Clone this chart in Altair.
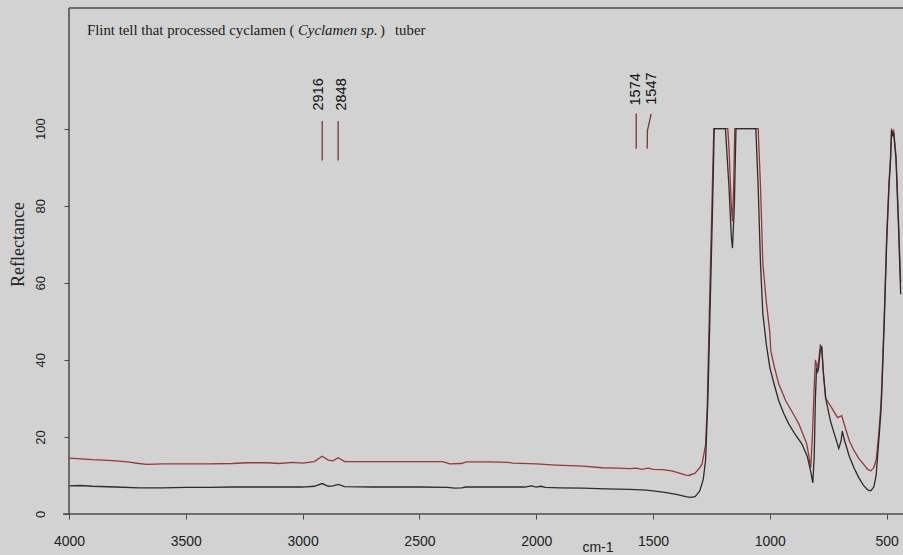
import altair as alt
import pandas as pd

# ---- data ----
wn_black = [4000, 3950, 3900, 3800, 3700, 3600, 3500, 3400, 3300, 3200, 3100, 3000, 2950, 2916, 2890,
            2870, 2848, 2820, 2700, 2500, 2380, 2350, 2320, 2300, 2200, 2100, 2050, 2020, 2000, 1980,
            1960, 1900, 1800, 1700, 1600, 1530, 1500, 1450, 1400, 1360, 1340, 1320, 1300, 1285, 1275,
            1265, 1255, 1245, 1238, 1190, 1185, 1175, 1165, 1160, 1152, 1145, 1060, 1050, 1040, 1030,
            1015, 1000, 983, 962, 940, 919, 890, 863, 840, 825, 816, 810, 805, 800, 795, 791, 785, 778,
            770, 761, 740, 720, 705, 695, 690, 680, 660, 640, 620, 600, 580, 568, 555, 545, 535, 525,
            521, 510, 500, 490, 483, 479, 475, 470, 460, 449, 440]
refl_black = [7.3, 7.4, 7.2, 7.0, 6.8, 6.8, 6.9, 6.9, 7.0, 7.0, 7.0, 7.0, 7.2, 7.9, 7.2,
              7.3, 7.7, 7.1, 7.0, 7.0, 6.9, 6.7, 6.8, 7.0, 7.0, 7.0, 7.0, 7.3, 7.0, 7.2,
              6.9, 6.8, 6.7, 6.5, 6.4, 6.2, 6.0, 5.6, 5.1, 4.5, 4.3, 4.5, 6.0, 9.0, 14.0,
              30.0, 55.0, 80.0, 100.0, 100.0, 95.0, 85.0, 72.0, 69.0, 80.0, 100.0, 100.0, 85.0, 65.0, 52.0,
              44.0, 38.0, 34.0, 29.4, 26.0, 23.4, 20.5, 18.2, 15.0, 11.0, 8.1, 15.0, 30.0, 38.0, 37.0, 38.0, 42.0, 43.6,
              36.0, 30.0, 24.0, 20.0, 17.0, 19.0, 21.5, 19.0, 15.0, 12.0, 9.5, 7.5, 6.2, 6.0, 7.0, 10.0, 18.0, 26.0,
              31.0, 50.0, 70.0, 85.0, 92.0, 99.5, 98.0, 99.0, 92.0, 74.0, 57.0]

wn_red = [4000, 3950, 3900, 3850, 3800, 3750, 3700, 3667, 3600, 3500, 3400, 3300, 3240, 3150, 3100,
          3043, 3000, 2950, 2916, 2890, 2870, 2848, 2820, 2714, 2600, 2400, 2370, 2320, 2300, 2200,
          2120, 2100, 2000, 1915, 1800, 1718, 1650, 1600, 1570, 1550, 1520, 1500, 1460, 1420, 1380,
          1360, 1346, 1320, 1300, 1290, 1275, 1268, 1258, 1248, 1240, 1180, 1175, 1165, 1160, 1155,
          1150, 1050, 1040, 1030, 1015, 1000, 996, 980, 962, 932, 900, 876, 842, 830, 825, 818, 810,
          805, 797, 790, 784, 778, 770, 761, 750, 730, 710, 692, 680, 660, 640, 620, 600, 580, 568,
          555, 545, 535, 525, 521, 510, 500, 490, 483, 479, 475, 470, 460, 449, 440]
refl_red = [14.5, 14.3, 14.1, 14.0, 13.8, 13.5, 13.1, 12.9, 13.0, 13.0, 13.0, 13.1, 13.3, 13.3, 13.1,
            13.4, 13.2, 13.6, 15.0, 14.0, 13.8, 14.6, 13.6, 13.6, 13.6, 13.6, 13.0, 13.1, 13.5, 13.5,
            13.4, 13.2, 13.0, 12.7, 12.4, 12.0, 11.9, 11.8, 11.9, 11.6, 11.9, 11.6, 11.5, 11.2, 10.5,
            10.1, 10.0, 10.6, 12.0, 13.0, 18.0, 28.0, 55.0, 80.0, 100.0, 100.0, 95.0, 80.0, 76.0, 85.0,
            100.0, 100.0, 85.0, 65.0, 55.0, 47.0, 42.3, 38.0, 33.8, 29.4, 26.0, 23.4, 18.2, 14.0, 12.0, 20.0, 33.0,
            40.0, 38.0, 40.0, 44.0, 43.0, 36.0, 30.0, 29.0, 27.0, 25.0, 25.5, 23.0, 19.0, 16.5, 14.5, 13.0, 11.5, 11.2,
            12.0, 14.0, 20.0, 28.0, 33.0, 52.0, 72.0, 86.0, 93.0, 100.0, 99.0, 99.5, 93.0, 76.0, 60.0]

peak_labels = ["2916", "2848", "1574", "1547"]
peak_text_wn = [2930, 2831, 1575, 1504]
peak_text_refl = [104.7, 104.7, 106.0, 106.2]
# marker lines: (label, wavenumber, reflectance)
peak_line_lab = ["2916", "2916", "2848", "2848", "1574", "1574", "1547", "1547", "1547"]
peak_line_wn = [2916, 2916, 2848, 2848, 1572, 1572, 1525, 1524, 1508]
peak_line_refl = [91.7, 102.0, 91.7, 102.0, 94.8, 103.9, 94.8, 99.5, 103.8]

x_ticks = [4000, 3500, 3000, 2500, 2000, 1500, 1000, 500]
y_ticks = [0, 20, 40, 60, 80, 100]

# ---- tables ----
spec = pd.concat([
    pd.DataFrame({"wn": wn_red, "refl": refl_red, "series": "red", "i": range(len(wn_red))}),
    pd.DataFrame({"wn": wn_black, "refl": refl_black, "series": "black", "i": range(len(wn_black))}),
])
labels = pd.DataFrame({"lab": peak_labels, "wn": peak_text_wn, "refl": peak_text_refl})
plines = pd.DataFrame({"lab": peak_line_lab, "wn": peak_line_wn, "refl": peak_line_refl,
                       "i": range(len(peak_line_lab))})

W, H = 834, 506
BG = "#d2d2d2"
FRAME = "#4a4a4a"

xscale = alt.Scale(domain=[4000, 430], nice=False, zero=False)
yscale = alt.Scale(domain=[0, 131.3], nice=False, zero=False)

x_enc = alt.X("wn:Q", scale=xscale,
              axis=alt.Axis(values=x_ticks, format="d", title=None, domain=False, grid=False,
                            tickSize=5, tickColor=FRAME, labelFont="Liberation Sans",
                            labelFontSize=14, labelColor="#222222", labelPadding=15,
                            labelFlush=False, labelOverlap=False))
y_enc = alt.Y("refl:Q", scale=yscale,
              axis=alt.Axis(values=y_ticks, title="Reflectance", domain=False, grid=False,
                            tickSize=5, tickColor=FRAME, labelFont="Liberation Sans",
                            labelFontSize=13, labelColor="#222222", labelAngle=270,
                            labelAlign="center", labelBaseline="bottom", labelPadding=17,
                            labelFlush=False, labelOverlap=False,
                            titleFont="Liberation Serif", titleFontSize=18, titleFontWeight="normal",
                            titleColor="#222222", titleAngle=270, titleAlign="center",
                            titleBaseline="middle", titleX=-51, titleY=236))

lines = alt.Chart(spec).mark_line(strokeWidth=1.3, clip=True).encode(
    x=x_enc, y=y_enc,
    color=alt.Color("series:N", scale=alt.Scale(domain=["red", "black"], range=["#9a3636", "#2c2c2c"]),
                    legend=None),
    order="i:Q",
)

marker_lines = alt.Chart(plines).mark_line(strokeWidth=1.3, color="#7a3434").encode(
    x=alt.X("wn:Q", scale=xscale), y=alt.Y("refl:Q", scale=yscale),
    detail="lab:N", order="i:Q",
)

marker_text = alt.Chart(labels).mark_text(angle=270, align="left", baseline="middle",
                                           font="Liberation Sans", fontSize=14.5, color="#111111").encode(
    x=alt.X("wn:Q", scale=xscale), y=alt.Y("refl:Q", scale=yscale), text="lab:N",
)

one = pd.DataFrame({"k": [0]})
frame_top = alt.Chart(one).mark_rule(color=FRAME, strokeWidth=1.5).encode(
    x=alt.value(0), x2=alt.value(W), y=alt.value(0))
frame_left = alt.Chart(one).mark_rule(color=FRAME, strokeWidth=1.5).encode(
    x=alt.value(0), y=alt.value(0), y2=alt.value(H))
frame_bottom = alt.Chart(one).mark_rule(color=FRAME, strokeWidth=1.5).encode(
    x=alt.value(-6), x2=alt.value(W), y=alt.value(H))

t1 = alt.Chart(one).mark_text(text="Flint tell that processed cyclamen (", align="left",
                              baseline="alphabetic", font="Liberation Serif", fontSize=14.8,
                              color="#1a1a1a").encode(x=alt.value(18), y=alt.value(27))
t2 = alt.Chart(one).mark_text(text="Cyclamen sp.", align="left", baseline="alphabetic",
                              font="Liberation Serif", fontStyle="italic", fontSize=14.8,
                              color="#1a1a1a").encode(x=alt.value(229), y=alt.value(27))
t3 = alt.Chart(one).mark_text(text=")", align="left", baseline="alphabetic",
                              font="Liberation Serif", fontSize=14.8,
                              color="#1a1a1a").encode(x=alt.value(311), y=alt.value(27))
t4 = alt.Chart(one).mark_text(text="tuber", align="left", baseline="alphabetic",
                              font="Liberation Serif", fontSize=14.8,
                              color="#1a1a1a").encode(x=alt.value(326), y=alt.value(27))
unit = alt.Chart(one).mark_text(text="cm-1", align="center", baseline="top",
                                font="Liberation Sans", fontSize=14,
                                color="#222222").encode(x=alt.value(529), y=alt.value(H + 27))

chart = alt.layer(
    lines, marker_lines, marker_text, frame_top, frame_left, frame_bottom, t1, t2, t3, t4, unit
).properties(
    width=W, height=H,
    autosize=alt.AutoSizeParams(type="none"),
    padding={"left": 69, "top": 8, "right": 0, "bottom": 41},
    background=BG,
).configure_view(stroke=None, fill=BG)

chart.save("out.html", embed_options={"renderer": "svg", "actions": False})
